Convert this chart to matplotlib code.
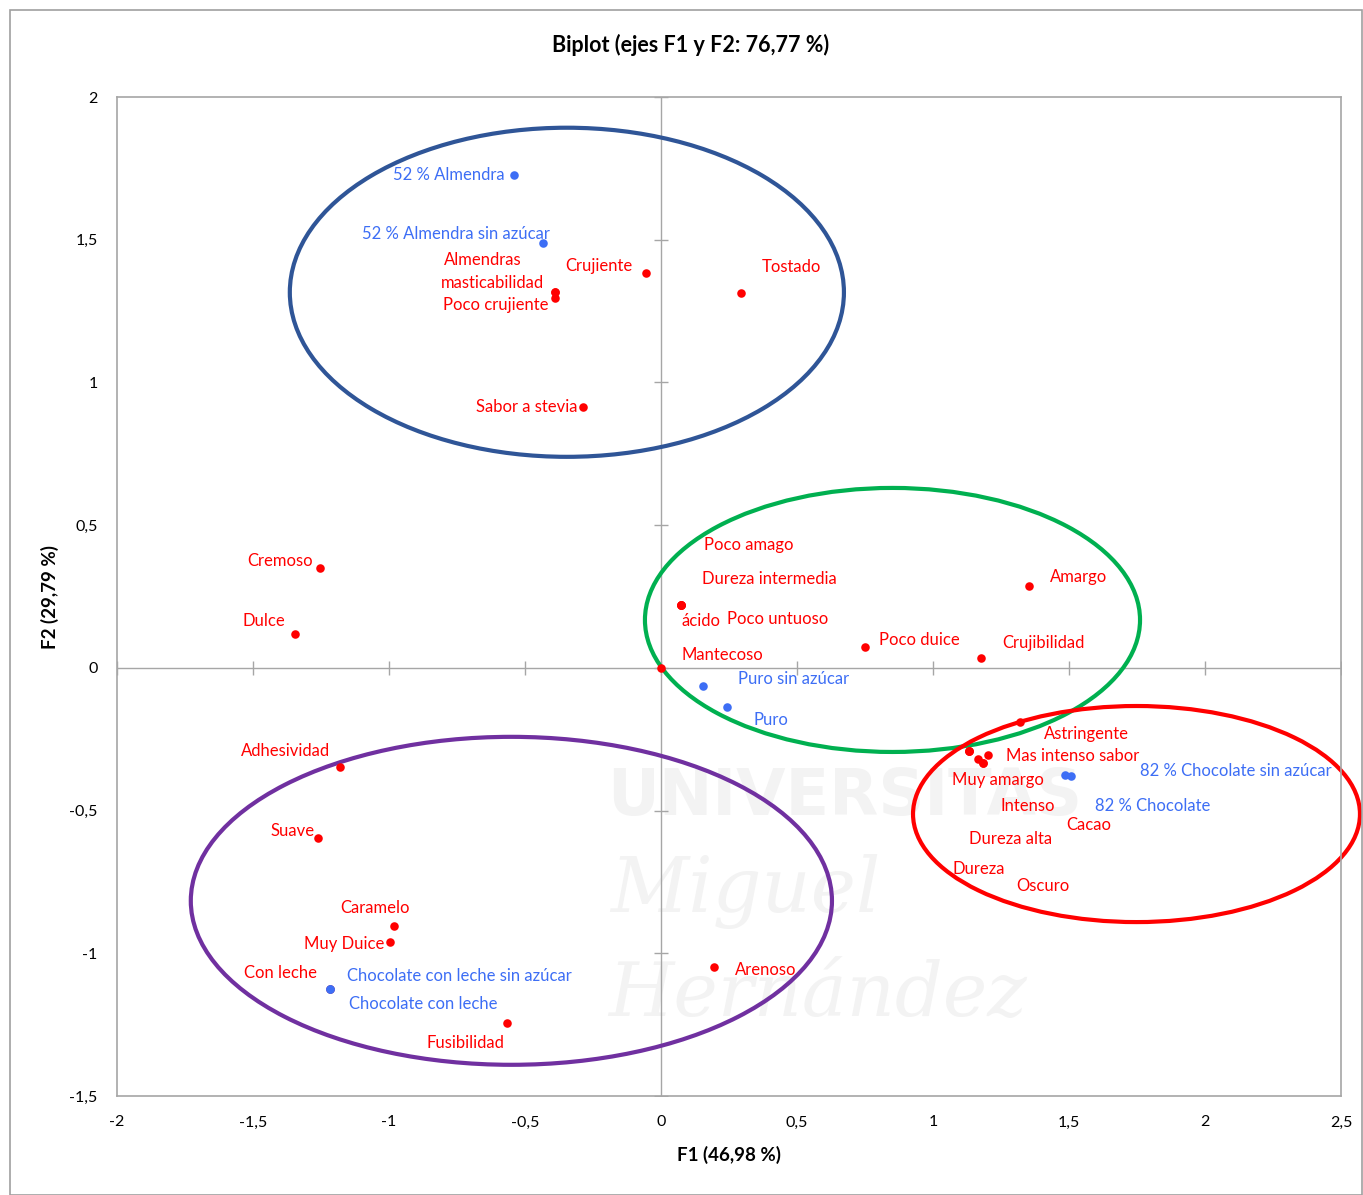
import matplotlib.pyplot as plt
from matplotlib.patches import Ellipse, Rectangle

plt.rcParams['font.family'] = ['Lato', 'DejaVu Sans']

# active observations (blue)
obs_names = ["52 % Almendra", "52 % Almendra sin azúcar", "Puro sin azúcar", "Puro",
             "82 % Chocolate sin azúcar", "82 % Chocolate",
             "Chocolate con leche sin azúcar", "Chocolate con leche"]
obs_x = [-0.540, -0.434, 0.154, 0.243, 1.507, 1.485, -1.217, -1.217]
obs_y = [1.727, 1.489, -0.063, -0.137, -0.378, -0.375, -1.125, -1.125]

# variables (red)
var_names = ["Crujiente", "Almendras", "masticabilidad", "Poco crujiente", "Tostado",
             "Sabor a stevia", "Cremoso", "Dulce",
             "Poco amago", "Dureza intermedia", "ácido", "Poco untuoso", "Mantecoso",
             "Poco duice", "Amargo", "Crujibilidad",
             "Astringente", "Mas intenso sabor", "Muy amargo", "Intenso", "Cacao",
             "Dureza alta", "Dureza", "Oscuro",
             "Adhesividad", "Suave", "Caramelo", "Muy Duice", "Con leche",
             "Arenoso", "Fusibilidad"]
var_x = [-0.055, -0.390, -0.390, -0.390, 0.294,
         -0.287, -1.254, -1.346,
         0.074, 0.074, 0.074, 0.074, 0.000,
         0.750, 1.353, 1.176,
         1.320, 1.202, 1.132, 1.165, 1.184,
         1.132, 1.132, 1.184,
         -1.180, -1.261, -0.982, -0.996, -1.217,
         0.195, -0.566]
var_y = [1.384, 1.317, 1.317, 1.296, 1.314,
         0.914, 0.350, 0.119,
         0.221, 0.221, 0.221, 0.221, 0.000,
         0.074, 0.287, 0.035,
         -0.189, -0.305, -0.291, -0.319, -0.333,
         -0.291, -0.291, -0.333,
         -0.347, -0.596, -0.904, -0.960, -1.125,
         -1.048, -1.244]

# label placement (pixel offsets from point, alignment)
obs_lab = [(-9, 0, 'right'), (7, 9, 'right'), (35, 7, 'left'), (26, -13, 'left'),
           (69, 5, 'left'), (30, -31, 'left'), (17, 13, 'left'), (19, -15, 'left')]
var_lab = [(-14, 7, 'right'), (-33, 32, 'right'), (-11, 9, 'right'), (-6, -7, 'right'), (21, 26, 'left'),
           (-5, 0, 'right'), (-7, 7, 'right'), (-10, 13, 'right'),
           (23, 60, 'left'), (21, 26, 'left'), (0, -16, 'left'), (46, -14, 'left'), (21, 13, 'left'),
           (14, 7, 'left'), (21, 9, 'left'), (21, 15, 'left'),
           (24, -12, 'left'), (18, -1, 'left'), (-17, -29, 'left'), (23, -47, 'left'), (83, -62, 'left'),
           (0, -88, 'left'), (-16, -118, 'left'), (33, -123, 'left'),
           (-10, 16, 'right'), (-3, 7, 'right'), (-54, 18, 'left'), (-6, -2, 'right'), (-13, 16, 'right'),
           (21, -3, 'left'), (-3, -20, 'right')]

# group ellipses: center x, center y, width, height, colour
groups = [(-0.346, 1.316, 2.037, 1.153, '#2f5597'),
          (0.851, 0.168, 1.820, 0.925, '#00b050'),
          (1.748, -0.512, 1.643, 0.757, '#ff0000'),
          (-0.550, -0.816, 2.357, 1.149, '#7030a0')]

red = '#ff0000'
blue = '#3d6ef5'
grey = '#a6a6a6'

fig = plt.figure(figsize=(13.63, 11.95), dpi=100)
ax = fig.add_axes([0.0858, 0.0828, 0.8981, 0.836])
fig.patches.append(Rectangle((10 / 1363, 0), 1 - 10 / 1363 - 0.001, 1 - 10 / 1195,
                             transform=fig.transFigure, fill=False, edgecolor='#a0a0a0', lw=1.2))

ax.set_xlim(-2, 2.5)
ax.set_ylim(-1.5, 2)

# faint watermark
wm = '#f3f3f3'
ax.text(0.676, -0.452, "UNIVERSITAS", fontsize=46, fontweight='bold', color=wm,
        ha='center', va='center', zorder=0, family='DejaVu Sans')
ax.text(0.309, -0.785, "Miguel", fontsize=55, style='italic', color=wm,
        ha='center', va='center', zorder=0, family='DejaVu Serif')
ax.text(0.574, -1.146, "Hernández", fontsize=54, style='italic', color=wm,
        ha='center', va='center', zorder=0, family='DejaVu Serif')

# zero lines with cross ticks
ax.axhline(0, color=grey, lw=1, zorder=1)
ax.axvline(0, color=grey, lw=1, zorder=1)
xt = [-2, -1.5, -1, -0.5, 0, 0.5, 1, 1.5, 2, 2.5]
yt = [-1.5, -1, -0.5, 0, 0.5, 1, 1.5, 2]
ax.plot(xt, [0] * len(xt), ls='none', marker='|', ms=10, color=grey, mew=1, zorder=1)
ax.plot([0] * len(yt), yt, ls='none', marker='_', ms=10, color=grey, mew=1, zorder=1)

ax.set_xticks(xt)
ax.set_yticks(yt)
ax.set_xticklabels([f"{v:g}".replace('.', ',') for v in xt])
ax.set_yticklabels([f"{v:g}".replace('.', ',') for v in yt])
ax.tick_params(length=0, labelsize=11.5, pad=14)
for s in ax.spines.values():
    s.set_color(grey)
    s.set_linewidth(1.2)

for cx, cy, w, h, c in groups:
    ax.add_patch(Ellipse((cx, cy), w, h, fill=False, edgecolor=c, lw=3, zorder=2, clip_on=False))

ax.scatter(var_x, var_y, s=38, color=red, zorder=3, linewidths=0)
ax.scatter(obs_x, obs_y, s=38, color=blue, zorder=4, linewidths=0)

for n, x, y, (dx, dy, ha) in zip(var_names, var_x, var_y, var_lab):
    ax.annotate(n, (x, y), xytext=(dx, dy), textcoords='offset pixels',
                ha=ha, va='center', color=red, fontsize=12, zorder=5, annotation_clip=False)
for n, x, y, (dx, dy, ha) in zip(obs_names, obs_x, obs_y, obs_lab):
    ax.annotate(n, (x, y), xytext=(dx, dy), textcoords='offset pixels',
                ha=ha, va='center', color=blue, fontsize=12, zorder=5, annotation_clip=False)

fig.text(691 / 1363, 1 - 45 / 1195, "Biplot (ejes F1 y F2: 76,77 %)", fontsize=15.5,
         fontweight='bold', ha='center', va='center')
ax.set_xlabel("F1 (46,98 %)", fontsize=13.5, fontweight='bold', labelpad=12)
ax.set_ylabel("F2 (29,79 %)", fontsize=13.5, fontweight='bold', labelpad=7)

fig.savefig("out.png", dpi=100)
